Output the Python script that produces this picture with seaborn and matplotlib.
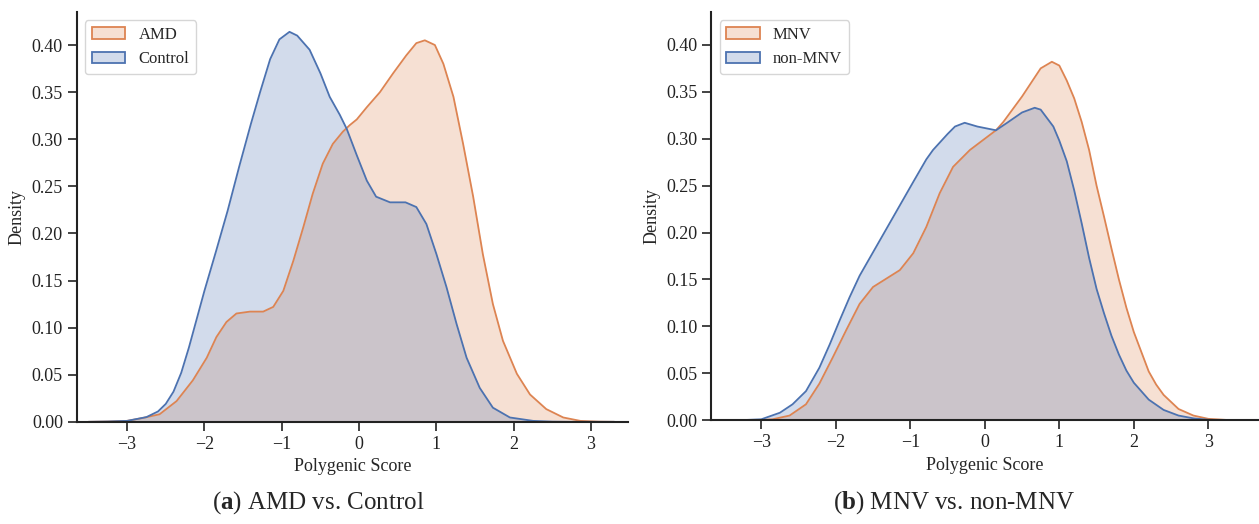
import matplotlib
matplotlib.use("Agg")
import matplotlib.pyplot as plt
from matplotlib.patches import Patch
from matplotlib.ticker import FormatStrFormatter
import seaborn as sns
import pandas as pd
import numpy as np

sns.set_theme(style="ticks")
plt.rcParams["font.family"] = ["Liberation Serif", "DejaVu Serif"]
plt.rcParams["mathtext.fontset"] = "custom"
plt.rcParams["mathtext.rm"] = "Liberation Serif"
plt.rcParams["mathtext.bf"] = "Liberation Serif:bold"

# density curves (x = polygenic score)
amd_x = [-3.5, -3.25, -3.0, -2.8, -2.58, -2.36, -2.15, -1.97, -1.845, -1.715, -1.586,
         -1.41, -1.24, -1.11, -0.98, -0.85, -0.72, -0.6, -0.47, -0.34, -0.21, -0.12,
         -0.03, 0.1, 0.27, 0.44, 0.61, 0.74, 0.85, 0.98, 1.09, 1.22, 1.345, 1.475,
         1.6, 1.73, 1.86, 2.04, 2.21, 2.42, 2.64, 2.86, 3.1, 3.3]
amd = [0.0, 0.0003, 0.001, 0.004, 0.008, 0.022, 0.044, 0.068, 0.090, 0.106, 0.115,
       0.117, 0.117, 0.122, 0.139, 0.171, 0.207, 0.242, 0.274, 0.295, 0.308, 0.315,
       0.321, 0.334, 0.350, 0.370, 0.389, 0.402, 0.405, 0.400, 0.380, 0.345, 0.295, 0.239,
       0.178, 0.125, 0.086, 0.051, 0.029, 0.0135, 0.0046, 0.001, 0.0002, 0.0]

control_x = [-3.5, -3.25, -3.0, -2.75, -2.6, -2.5, -2.4, -2.3, -2.2, -2.1, -2.0, -1.85,
             -1.7, -1.55, -1.4, -1.28, -1.15, -1.03, -0.9, -0.8, -0.64, -0.5, -0.38,
             -0.25, -0.16, -0.03, 0.1, 0.22, 0.4, 0.6, 0.74, 0.87, 1.0, 1.13, 1.26,
             1.39, 1.56, 1.73, 1.95, 2.25, 2.5, 2.75, 3.0, 3.3]
control = [0.0, 0.0003, 0.001, 0.005, 0.011, 0.019, 0.032, 0.052, 0.079, 0.109, 0.139, 0.181,
           0.224, 0.271, 0.316, 0.350, 0.385, 0.406, 0.414, 0.410, 0.395, 0.370, 0.345,
           0.326, 0.311, 0.283, 0.256, 0.239, 0.233, 0.233, 0.228, 0.210, 0.178, 0.143, 0.104,
           0.068, 0.036, 0.015, 0.0046, 0.001, 0.0002, 0.0, 0.0, 0.0]

mnv_x = [-3.3, -3.0, -2.85, -2.62, -2.4, -2.22, -2.04, -1.86, -1.68, -1.5, -1.32, -1.14,
         -0.96, -0.785, -0.605, -0.426, -0.2, 0.0, 0.15, 0.25, 0.5, 0.75, 0.9, 1.0, 1.1,
         1.2, 1.3, 1.4, 1.5, 1.6, 1.7, 1.8, 1.9, 2.0, 2.1, 2.2, 2.3, 2.4, 2.6, 2.8,
         3.0, 3.25, 3.5]
mnv = [0.0, 0.0003, 0.001, 0.005, 0.017, 0.039, 0.067, 0.096, 0.124, 0.142, 0.151, 0.160,
       0.178, 0.206, 0.242, 0.270, 0.288, 0.300, 0.309, 0.318, 0.345, 0.375, 0.382, 0.378, 0.362,
       0.343, 0.318, 0.288, 0.250, 0.217, 0.183, 0.150, 0.120, 0.094, 0.073, 0.052, 0.038,
       0.027, 0.012, 0.005, 0.0015, 0.0003, 0.0]

non_mnv_x = [-3.3, -3.0, -2.75, -2.58, -2.4, -2.22, -2.08, -1.95, -1.815, -1.68, -1.5,
             -1.32, -1.14, -0.96, -0.785, -0.695, -0.5, -0.4, -0.27, -0.1, 0.15, 0.3,
             0.5, 0.67, 0.75, 0.92, 1.0, 1.1, 1.2, 1.3, 1.4, 1.5, 1.6, 1.7, 1.8, 1.9,
             2.0, 2.2, 2.4, 2.6, 2.8, 3.0, 3.3]
non_mnv = [0.0, 0.001, 0.008, 0.017, 0.031, 0.056, 0.081, 0.106, 0.131, 0.154, 0.179,
           0.204, 0.229, 0.254, 0.278, 0.288, 0.305, 0.313, 0.317, 0.313, 0.309, 0.317,
           0.328, 0.333, 0.331, 0.313, 0.298, 0.276, 0.245, 0.210, 0.173, 0.140, 0.114, 0.090,
           0.070, 0.053, 0.040, 0.022, 0.011, 0.005, 0.002, 0.0005, 0.0]

blue, orange = sns.color_palette("deep")[0], sns.color_palette("deep")[1]

panels = [
    ((amd_x, amd, "AMD"), (control_x, control, "Control"), (-3.65, 3.48), "a", "AMD vs. Control", 0.2525),
    ((mnv_x, mnv, "MNV"), (non_mnv_x, non_mnv, "non-MNV"), (-3.67, 3.68), "b", "MNV vs. non-MNV", 0.758),
]

fig = plt.figure(figsize=(12.59, 5.24), dpi=100)
axes = [fig.add_axes([0.061, 0.195, 0.438, 0.782]),
        fig.add_axes([0.565, 0.198, 0.435, 0.779])]

for ax, (pos, neg, xlim, letter, caption, cx) in zip(axes, panels):
    df = pd.concat([
        pd.DataFrame({"score": pos[0], "density": pos[1], "group": pos[2]}),
        pd.DataFrame({"score": neg[0], "density": neg[1], "group": neg[2]}),
    ])
    sns.lineplot(data=df, x="score", y="density", hue="group",
                 palette={pos[2]: orange, neg[2]: blue},
                 linewidth=1.3, legend=False, ax=ax)
    ax.fill_between(pos[0], pos[1], color=orange, alpha=0.25, linewidth=0)
    ax.fill_between(neg[0], neg[1], color=blue, alpha=0.25, linewidth=0)

    ax.set_xlim(*xlim)
    ax.set_ylim(0, 0.435)
    ax.set_xticks([-3, -2, -1, 0, 1, 2, 3])
    ax.set_xticklabels(["\u22123", "\u22122", "\u22121", "0", "1", "2", "3"])
    ax.set_yticks(np.arange(0, 0.41, 0.05))
    ax.yaxis.set_major_formatter(FormatStrFormatter("%.2f"))
    ax.tick_params(labelsize=13, length=6.5, width=1.2, colors="#222222")
    for s in ax.spines.values():
        s.set_linewidth(1.5)
        s.set_color("#222222")
    sns.despine(ax=ax)
    ax.set_xlabel("Polygenic Score", fontsize=13)
    ax.set_ylabel("Density", fontsize=13)

    handles = [Patch(facecolor=(*orange, 0.25), edgecolor=orange, linewidth=1.3, label=pos[2]),
               Patch(facecolor=(*blue, 0.25), edgecolor=blue, linewidth=1.3, label=neg[2])]
    ax.legend(handles=handles, loc="upper left", fontsize=12, frameon=True)

    fig.text(cx, 0.03, "(" + r"$\mathbf{" + letter + "}$" + ") " + caption,
             fontsize=18, ha="center", va="baseline")

fig.savefig("out.png", dpi=100)
